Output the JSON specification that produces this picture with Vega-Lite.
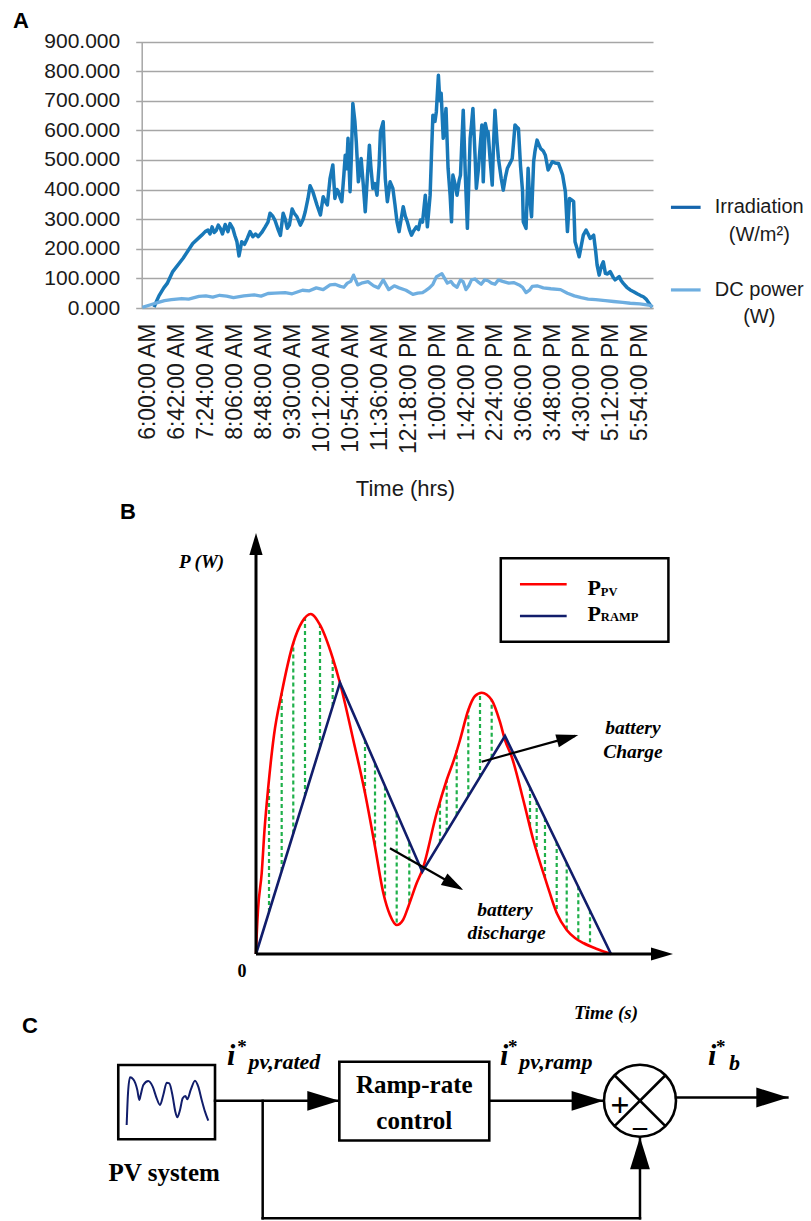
{
  "$schema": "https://vega.github.io/schema/vega-lite/v6.json",
  "width": 811,
  "height": 1221,
  "padding": 0,
  "autosize": {"type": "none"},
  "background": "#ffffff",
  "config": {"view": {"stroke": null}},
  "datasets": {
    "irr": [
      {"t":370,"v":3},{"t":373,"v":20},{"t":377,"v":41},{"t":384,"v":68},{"t":389,"v":83},{"t":397,"v":123},{"t":412,"v":168},{"t":426,"v":218},{"t":439,"v":246},{"t":444,"v":258},{"t":448,"v":263},{"t":451,"v":250},{"t":454,"v":274},{"t":457,"v":255},{"t":460,"v":262},{"t":463,"v":280},{"t":466,"v":269},{"t":469,"v":250},{"t":473,"v":282},{"t":477,"v":258},{"t":480,"v":285},{"t":484,"v":269},{"t":487,"v":245},{"t":490,"v":224},{"t":493,"v":176},{"t":497,"v":224},{"t":501,"v":215},{"t":505,"v":235},{"t":509,"v":258},{"t":513,"v":241},{"t":517,"v":250},{"t":521,"v":241},{"t":526,"v":255},{"t":531,"v":274},{"t":535,"v":290},{"t":538,"v":320},{"t":542,"v":310},{"t":545,"v":297},{"t":550,"v":263},{"t":553,"v":245},{"t":557,"v":320},{"t":560,"v":300},{"t":563,"v":269},{"t":566,"v":280},{"t":570,"v":334},{"t":573,"v":320},{"t":577,"v":308},{"t":582,"v":280},{"t":586,"v":300},{"t":589,"v":325},{"t":593,"v":370},{"t":596,"v":413},{"t":600,"v":393},{"t":606,"v":348},{"t":611,"v":314},{"t":615,"v":376},{"t":618,"v":360},{"t":621,"v":348},{"t":625,"v":438},{"t":629,"v":483},{"t":632,"v":370},{"t":635,"v":400},{"t":637,"v":393},{"t":640,"v":370},{"t":642,"v":359},{"t":645,"v":450},{"t":647,"v":516},{"t":649,"v":470},{"t":651,"v":573},{"t":654,"v":393},{"t":656,"v":520},{"t":658,"v":691},{"t":661,"v":629},{"t":663,"v":560},{"t":666,"v":426},{"t":668,"v":460},{"t":670,"v":505},{"t":673,"v":420},{"t":676,"v":325},{"t":679,"v":440},{"t":682,"v":550},{"t":684,"v":480},{"t":687,"v":404},{"t":690,"v":420},{"t":693,"v":381},{"t":696,"v":480},{"t":698,"v":595},{"t":702,"v":629},{"t":705,"v":438},{"t":708,"v":359},{"t":712,"v":426},{"t":716,"v":404},{"t":719,"v":350},{"t":722,"v":291},{"t":725,"v":258},{"t":728,"v":300},{"t":731,"v":342},{"t":734,"v":310},{"t":737,"v":291},{"t":740,"v":265},{"t":743,"v":246},{"t":746,"v":260},{"t":750,"v":274},{"t":753,"v":265},{"t":756,"v":297},{"t":759,"v":290},{"t":763,"v":381},{"t":766,"v":274},{"t":770,"v":381},{"t":772,"v":520},{"t":774,"v":651},{"t":777,"v":630},{"t":779,"v":663},{"t":782,"v":786},{"t":784,"v":700},{"t":786,"v":725},{"t":789,"v":573},{"t":791,"v":610},{"t":793,"v":674},{"t":796,"v":472},{"t":799,"v":380},{"t":801,"v":291},{"t":803,"v":449},{"t":806,"v":420},{"t":809,"v":381},{"t":812,"v":430},{"t":814,"v":449},{"t":816,"v":560},{"t":818,"v":668},{"t":821,"v":450},{"t":824,"v":269},{"t":826,"v":420},{"t":828,"v":573},{"t":830,"v":620},{"t":832,"v":674},{"t":835,"v":520},{"t":837,"v":404},{"t":840,"v":470},{"t":843,"v":560},{"t":845,"v":618},{"t":847,"v":426},{"t":850,"v":623},{"t":852,"v":600},{"t":854,"v":595},{"t":857,"v":500},{"t":860,"v":415},{"t":862,"v":560},{"t":864,"v":668},{"t":867,"v":560},{"t":869,"v":505},{"t":873,"v":438},{"t":876,"v":398},{"t":879,"v":440},{"t":882,"v":472},{"t":886,"v":490},{"t":889,"v":505},{"t":891,"v":560},{"t":893,"v":618},{"t":896,"v":610},{"t":898,"v":606},{"t":901,"v":480},{"t":904,"v":393},{"t":905,"v":291},{"t":907,"v":280},{"t":909,"v":269},{"t":911,"v":400},{"t":912,"v":472},{"t":914,"v":380},{"t":917,"v":308},{"t":920,"v":494},{"t":922,"v":530},{"t":925,"v":567},{"t":928,"v":550},{"t":930,"v":539},{"t":934,"v":530},{"t":937,"v":516},{"t":941,"v":466},{"t":944,"v":480},{"t":947,"v":494},{"t":951,"v":490},{"t":956,"v":488},{"t":959,"v":470},{"t":962,"v":449},{"t":966,"v":393},{"t":969,"v":258},{"t":972,"v":370},{"t":975,"v":365},{"t":978,"v":359},{"t":980,"v":224},{"t":983,"v":200},{"t":986,"v":173},{"t":989,"v":210},{"t":992,"v":246},{"t":996,"v":263},{"t":999,"v":250},{"t":1002,"v":235},{"t":1007,"v":246},{"t":1010,"v":190},{"t":1012,"v":145},{"t":1015,"v":111},{"t":1018,"v":140},{"t":1021,"v":156},{"t":1024,"v":117},{"t":1027,"v":115},{"t":1031,"v":123},{"t":1035,"v":105},{"t":1038,"v":95},{"t":1041,"v":100},{"t":1044,"v":106},{"t":1047,"v":92},{"t":1050,"v":83},{"t":1055,"v":70},{"t":1060,"v":61},{"t":1065,"v":55},{"t":1070,"v":48},{"t":1075,"v":42},{"t":1079,"v":38},{"t":1083,"v":30},{"t":1086,"v":20},{"t":1089,"v":10},{"t":1092,"v":3}
    ],
    "dc": [
      {"t":353,"v":2},{"t":365,"v":11},{"t":375,"v":18},{"t":385,"v":25},{"t":395,"v":28},{"t":410,"v":32},{"t":420,"v":30},{"t":435,"v":39},{"t":445,"v":41},{"t":455,"v":37},{"t":465,"v":43},{"t":475,"v":40},{"t":485,"v":35},{"t":500,"v":41},{"t":515,"v":44},{"t":525,"v":40},{"t":535,"v":49},{"t":545,"v":50},{"t":560,"v":52},{"t":570,"v":48},{"t":585,"v":60},{"t":595,"v":58},{"t":605,"v":68},{"t":615,"v":62},{"t":625,"v":78},{"t":632,"v":80},{"t":640,"v":73},{"t":645,"v":70},{"t":650,"v":84},{"t":655,"v":90},{"t":659,"v":111},{"t":665,"v":78},{"t":672,"v":85},{"t":680,"v":89},{"t":688,"v":75},{"t":695,"v":68},{"t":702,"v":95},{"t":710,"v":62},{"t":718,"v":75},{"t":725,"v":68},{"t":735,"v":60},{"t":745,"v":46},{"t":752,"v":50},{"t":759,"v":52},{"t":763,"v":58},{"t":769,"v":68},{"t":774,"v":80},{"t":779,"v":105},{"t":787,"v":116},{"t":795,"v":84},{"t":800,"v":90},{"t":804,"v":78},{"t":809,"v":70},{"t":814,"v":95},{"t":818,"v":88},{"t":822,"v":62},{"t":826,"v":75},{"t":830,"v":95},{"t":835,"v":98},{"t":839,"v":89},{"t":844,"v":80},{"t":849,"v":95},{"t":854,"v":92},{"t":859,"v":84},{"t":864,"v":80},{"t":869,"v":95},{"t":875,"v":90},{"t":884,"v":84},{"t":891,"v":86},{"t":899,"v":78},{"t":904,"v":70},{"t":909,"v":52},{"t":914,"v":60},{"t":918,"v":73},{"t":925,"v":75},{"t":934,"v":68},{"t":945,"v":65},{"t":959,"v":62},{"t":969,"v":50},{"t":979,"v":41},{"t":989,"v":35},{"t":999,"v":30},{"t":1010,"v":28},{"t":1024,"v":25},{"t":1036,"v":22},{"t":1049,"v":19},{"t":1060,"v":16},{"t":1074,"v":14},{"t":1089,"v":9},{"t":1092,"v":3}
    ],
    "pvCurve": [
      {"t":0,"P":0},{"t":0.12,"P":3.33},{"t":0.48,"P":10.45},{"t":1.37,"P":19.24},{"t":2.04,"P":29.45},{"t":2.95,"P":39.74},{"t":4.32,"P":52.02},{"t":6.16,"P":62.0},{"t":8.94,"P":73.87},{"t":11.03,"P":78.86},{"t":13.12,"P":80.76},{"t":15.35,"P":78.15},{"t":18.39,"P":70.31},{"t":20.14,"P":64.37},{"t":23.33,"P":50.83},{"t":26.14,"P":38.24},{"t":28.54,"P":25.49},{"t":30.53,"P":14.49},{"t":32.13,"P":9.26},{"t":33.74,"P":6.89},{"t":35.25,"P":8.08},{"t":36.52,"P":11.24},{"t":38.54,"P":16.86},{"t":39.88,"P":19.95},{"t":43.33,"P":33.49},{"t":45.73,"P":41.33},{"t":47.72,"P":46.86},{"t":48.92,"P":50.83},{"t":50.91,"P":57.96},{"t":52.52,"P":61.28},{"t":54.12,"P":62.07},{"t":56.52,"P":60.33},{"t":58.51,"P":55.11},{"t":59.71,"P":50.83},{"t":61.32,"P":46.86},{"t":64.1,"P":36.58},{"t":66.5,"P":27.08},{"t":69.71,"P":16.79},{"t":72.11,"P":9.74},{"t":74.51,"P":5.7},{"t":76.5,"P":3.8},{"t":78.49,"P":2.61},{"t":81.77,"P":1.19},{"t":85.13,"P":0}
    ],
    "rampCurve": [
      {"t":0,"P":0},{"t":20.14,"P":64.44},{"t":39.88,"P":19.55},{"t":59.71,"P":51.78},{"t":85.13,"P":0}
    ],
    "battery": [
      {"t":3.12,"P":9.98,"P2":39.74},{"t":6.16,"P":19.71,"P2":62.0},{"t":8.94,"P":28.62,"P2":73.87},{"t":11.75,"P":37.53,"P2":80.12},{"t":15.35,"P":49.17,"P2":78.15},{"t":18.39,"P":58.91,"P2":70.31},
      {"t":26.14,"P":50.83,"P2":38.24},{"t":28.54,"P":45.25,"P2":25.49},{"t":30.94,"P":39.79,"P2":13.3},{"t":33.74,"P":33.35,"P2":6.89},{"t":36.76,"P":26.46,"P2":11.88},
      {"t":44.12,"P":26.44,"P2":36.1},{"t":45.73,"P":29.05,"P2":41.33},{"t":48.13,"P":32.95,"P2":48.46},{"t":50.91,"P":37.46,"P2":57.96},{"t":53.72,"P":42.04,"P2":62.0},{"t":56.52,"P":46.6,"P2":60.33},
      {"t":65.71,"P":39.67,"P2":30.21},{"t":67.31,"P":36.37,"P2":24.47},{"t":69.3,"P":32.3,"P2":18.05},{"t":72.11,"P":26.6,"P2":9.74},{"t":74.51,"P":21.73,"P2":5.7},{"t":77.29,"P":16.08,"P2":3.33},{"t":80.1,"P":10.38,"P2":1.9}
    ],
    "wave": [
      {"u":3.81,"w":14.29},{"u":4.0,"w":18.81},{"u":4.29,"w":21.1},{"u":4.76,"w":20.81},{"u":5.33,"w":19.29},{"u":5.61,"w":17.86},{"u":5.81,"w":18.57},{"u":6.19,"w":20.0},{"u":6.9,"w":20.57},{"u":7.53,"w":19.76},{"u":8.1,"w":18.1},{"u":8.57,"w":17.14},{"u":9.04,"w":18.57},{"u":9.53,"w":20.33},{"u":9.9,"w":20.24},{"u":10.39,"w":18.33},{"u":10.76,"w":16.19},{"u":11.04,"w":15.38},{"u":11.43,"w":16.43},{"u":11.81,"w":18.1},{"u":12.19,"w":18.43},{"u":12.47,"w":17.96},{"u":12.96,"w":19.29},{"u":13.57,"w":20.62},{"u":14.04,"w":19.76},{"u":14.53,"w":17.86},{"u":15.0,"w":16.19},{"u":15.47,"w":14.9}
    ]
  },
  "resolve": {"scale": {"x": "independent", "y": "independent"}},
  "layer": [
    {
      "encoding": {
        "x": {
          "field": "t", "type": "quantitative",
          "scale": {"domain": [352, 1093], "range": [141.7, 653], "nice": false, "zero": false},
          "axis": {
            "values": [360,402,444,486,528,570,612,654,696,738,780,822,864,906,948,990,1032,1074],
            "labelExpr": "(floor(datum.value/60) % 12 == 0 ? 12 : floor(datum.value/60) % 12) + ':' + (datum.value % 60 < 10 ? '0' : '') + (datum.value % 60) + ':00 ' + (datum.value < 720 ? 'AM' : 'PM')",
            "labelAngle": 270, "labelFont": "Liberation Sans", "labelFontSize": 23, "labelColor": "#1a1a1a",
            "labelPadding": 15, "labelOverlap": false, "labelFlush": false, "labelBound": false,
            "ticks": false, "grid": false,
            "domain": true, "domainColor": "#a6a6a6", "domainWidth": 1.5,
            "offset": -913,
            "title": "Time (hrs)", "titleFont": "Liberation Sans", "titleFontSize": 22, "titleFontWeight": "normal", "titleColor": "#1a1a1a",
            "titleX": 405, "titleY": 180, "titleBaseline": "middle", "titleAlign": "center", "titleAngle": 0
          }
        },
        "y": {
          "field": "v", "type": "quantitative",
          "scale": {"domain": [0, 900], "range": [308, 41.5], "nice": false, "zero": false},
          "axis": {
            "values": [0,100,200,300,400,500,600,700,800,900], "format": ".3f",
            "labelFont": "Liberation Sans", "labelFontSize": 21, "labelColor": "#1a1a1a", "labelPadding": 16,
            "ticks": true, "tickSize": 6, "tickColor": "#a6a6a6", "tickWidth": 1.5,
            "grid": true, "gridColor": "#a6a6a6", "gridWidth": 1.5,
            "domain": true, "domainColor": "#a6a6a6", "domainWidth": 1.5,
            "offset": -141.7, "title": null
          }
        }
      },
      "layer": [
        {"data": {"name": "irr"}, "mark": {"type": "line", "color": "#1878b8", "strokeWidth": 3.5, "strokeJoin": "round"}},
        {"data": {"name": "dc"}, "mark": {"type": "line", "color": "#6eaee0", "strokeWidth": 3.3, "strokeJoin": "round"}},
        {"data": {"values": [{"t": 1119, "t2": 1162, "v": 340}]}, "mark": {"type": "rule", "color": "#1565ad", "strokeWidth": 3.2}, "encoding": {"x2": {"field": "t2"}}},
        {"data": {"values": [{"t": 1119, "t2": 1162, "v": 61}]}, "mark": {"type": "rule", "color": "#6eaee0", "strokeWidth": 3.2}, "encoding": {"x2": {"field": "t2"}}},
        {"data": {"values": [{"t": 1247, "v": 340, "label": "Irradiation"}, {"t": 1247, "v": 246, "label": "(W/m²)"}, {"t": 1247, "v": 61, "label": "DC power"}, {"t": 1247, "v": -31, "label": "(W)"}]},
         "mark": {"type": "text", "font": "Liberation Sans", "fontSize": 20, "align": "center", "baseline": "middle", "color": "#1a1a1a"},
         "encoding": {"text": {"field": "label"}}},
        {"data": {"values": [{"t": 177, "v": 968, "label": "A"}]},
         "mark": {"type": "text", "font": "Liberation Sans", "fontSize": 22, "fontWeight": "bold", "align": "center", "baseline": "middle", "color": "#000000"},
         "encoding": {"text": {"field": "label"}}}
      ]
    },
    {
      "encoding": {
        "x": {"field": "t", "type": "quantitative", "scale": {"domain": [0, 100], "range": [256, 673], "nice": false, "zero": false}, "axis": null},
        "y": {"field": "P", "type": "quantitative", "scale": {"domain": [0, 100], "range": [954, 533], "nice": false, "zero": false}, "axis": null}
      },
      "layer": [
        {"data": {"name": "battery"}, "mark": {"type": "rule", "color": "#1fb04a", "strokeWidth": 2.2, "strokeDash": [4, 3]}, "encoding": {"y2": {"field": "P2"}}},
        {"data": {"name": "pvCurve"}, "mark": {"type": "line", "color": "#ff0000", "strokeWidth": 2.6, "interpolate": "monotone"}},
        {"data": {"name": "rampCurve"}, "mark": {"type": "line", "color": "#111d6b", "strokeWidth": 2.6}},
        {"data": {"values": [{"t": 0, "P": 0, "t2": 0, "P2": 96}, {"t": 0, "P": 0, "t2": 96, "P2": 0}]},
         "mark": {"type": "rule", "color": "#000000", "strokeWidth": 3}, "encoding": {"x2": {"field": "t2"}, "y2": {"field": "P2"}}},
        {"data": {"values": [{"t": 0, "P": 100}]}, "mark": {"type": "point", "shape": "M-2,-0.6L0,0L-2,0.6Z", "size": 484, "filled": true, "color": "#000000", "opacity": 1, "angle": 270}},
        {"data": {"values": [{"t": 100, "P": 0}]}, "mark": {"type": "point", "shape": "M-2,-0.6L0,0L-2,0.6Z", "size": 484, "filled": true, "color": "#000000", "opacity": 1, "angle": 0}},
        {"data": {"values": [{"t": 54.12, "P": 45.68, "t2": 76.5, "P2": 51.8}, {"t": 32.13, "P": 25.11, "t2": 49.0, "P2": 15.6}]},
         "mark": {"type": "rule", "color": "#000000", "strokeWidth": 2.2}, "encoding": {"x2": {"field": "t2"}, "y2": {"field": "P2"}}},
        {"data": {"values": [{"t": 77.29, "P": 52.02}]}, "mark": {"type": "point", "shape": "M-2,-0.6L0,0L-2,0.6Z", "size": 484, "filled": true, "color": "#000000", "opacity": 1, "angle": 344.5}},
        {"data": {"values": [{"t": 49.71, "P": 15.2}]}, "mark": {"type": "point", "shape": "M-2,-0.6L0,0L-2,0.6Z", "size": 484, "filled": true, "color": "#000000", "opacity": 1, "angle": 29.6}},
        {"data": {"values": [{"t": 58.7, "t2": 98.9, "P": 74.17, "P2": 93.98}]},
         "mark": {"type": "rect", "fill": "#ffffff", "stroke": "#000000", "strokeWidth": 2.5}, "encoding": {"x2": {"field": "t2"}, "y2": {"field": "P2"}}},
        {"data": {"values": [{"t": 63.3, "t2": 74.5, "P": 87.8}]}, "mark": {"type": "rule", "color": "#ff0000", "strokeWidth": 2.5}, "encoding": {"x2": {"field": "t2"}}},
        {"data": {"values": [{"t": 63.3, "t2": 74.5, "P": 80.3}]}, "mark": {"type": "rule", "color": "#111d6b", "strokeWidth": 2.5}, "encoding": {"x2": {"field": "t2"}}},
        {"data": {"values": [{"t": 79.5, "P": 85.27, "label": "P"}, {"t": 79.5, "P": 79.2, "label": "P"}]},
         "mark": {"type": "text", "font": "Liberation Serif", "fontSize": 22, "fontWeight": "bold", "align": "left", "baseline": "alphabetic", "color": "#000000"},
         "encoding": {"text": {"field": "label"}}},
        {"data": {"values": [{"t": 82.7, "P": 85.04, "label": "PV"}, {"t": 82.7, "P": 79.0, "label": "RAMP"}]},
         "mark": {"type": "text", "font": "Liberation Serif", "fontSize": 12.5, "fontWeight": "bold", "align": "left", "baseline": "alphabetic", "color": "#000000"},
         "encoding": {"text": {"field": "label"}}},
        {"data": {"values": [{"t": -13.07, "P": 93.1, "label": "P (W)"}, {"t": 83.93, "P": -14.13, "label": "Time (s)"}]},
         "mark": {"type": "text", "font": "Liberation Serif", "fontSize": 19, "fontWeight": "bold", "fontStyle": "italic", "align": "center", "baseline": "middle", "color": "#000000"},
         "encoding": {"text": {"field": "label"}}},
        {"data": {"values": [{"t": -3.36, "P": -4.28, "label": "0"}]},
         "mark": {"type": "text", "font": "Liberation Serif", "fontSize": 18, "fontWeight": "bold", "align": "center", "baseline": "middle", "color": "#000000"},
         "encoding": {"text": {"field": "label"}}},
        {"data": {"values": [{"t": 90.4, "P": 53.6, "label": "battery"}, {"t": 90.4, "P": 48.05, "label": "Charge"}, {"t": 59.7, "P": 10.45, "label": "battery"}, {"t": 60.1, "P": 4.9, "label": "discharge"}]},
         "mark": {"type": "text", "font": "Liberation Serif", "fontSize": 19.5, "fontWeight": "bold", "fontStyle": "italic", "align": "center", "baseline": "middle", "color": "#000000"},
         "encoding": {"text": {"field": "label"}}},
        {"data": {"values": [{"t": -30.7, "P": 105.0, "label": "B"}]},
         "mark": {"type": "text", "font": "Liberation Sans", "fontSize": 22, "fontWeight": "bold", "align": "center", "baseline": "middle", "color": "#000000"},
         "encoding": {"text": {"field": "label"}}}
      ]
    },
    {
      "encoding": {
        "x": {"field": "u", "type": "quantitative", "scale": {"domain": [0, 100], "range": [100, 800], "nice": false, "zero": false}, "axis": null},
        "y": {"field": "w", "type": "quantitative", "scale": {"domain": [0, 25], "range": [1225, 1050], "nice": false, "zero": false}, "axis": null}
      },
      "layer": [
        {"data": {"values": [{"u": 2.61, "u2": 16.43, "w": 12.24, "w2": 22.86}, {"u": 34.19, "u2": 55.61, "w": 12.07, "w2": 23.33}]},
         "mark": {"type": "rect", "fill": "#ffffff", "stroke": "#000000", "strokeWidth": 2.6}, "encoding": {"x2": {"field": "u2"}, "y2": {"field": "w2"}}},
        {"data": {"name": "wave"}, "mark": {"type": "line", "color": "#111d6b", "strokeWidth": 2, "interpolate": "monotone"}},
        {"data": {"values": [
          {"u": 16.43, "w": 17.74, "u2": 34.0, "w2": 17.74},
          {"u": 55.61, "w": 17.74, "u2": 71.8, "w2": 17.74},
          {"u": 82.29, "w": 18.21, "u2": 98.2, "w2": 18.21},
          {"u": 23.24, "w": 17.74, "u2": 23.24, "w2": 0.96},
          {"u": 23.24, "w": 0.96, "u2": 77.14, "w2": 0.96},
          {"u": 77.14, "w": 0.96, "u2": 77.14, "w2": 12.4}]},
         "mark": {"type": "rule", "color": "#000000", "strokeWidth": 2.5, "strokeCap": "square"}, "encoding": {"x2": {"field": "u2"}, "y2": {"field": "w2"}}},
        {"data": {"values": [{"u": 34.19, "w": 17.74}, {"u": 71.95, "w": 17.74}, {"u": 98.33, "w": 18.21}]},
         "mark": {"type": "point", "shape": "M-2,-0.62L0,0L-2,0.62Z", "size": 1024, "filled": true, "color": "#000000", "opacity": 1, "angle": 0}},
        {"data": {"values": [{"u": 77.14, "w": 12.55}]},
         "mark": {"type": "point", "shape": "M-2,-0.62L0,0L-2,0.62Z", "size": 1024, "filled": true, "color": "#000000", "opacity": 1, "angle": 270}},
        {"data": {"values": [{"u": 77.14, "w": 17.76}]},
         "mark": {"type": "point", "shape": "M-1,0A1,1,0,1,1,1,0A1,1,0,1,1,-1,0M-0.7071,-0.7071L0.7071,0.7071M-0.7071,0.7071L0.7071,-0.7071", "size": 5184, "filled": false, "stroke": "#000000", "strokeWidth": 2.6, "opacity": 1}},
        {"data": {"values": [{"u": 74.29, "w": 16.93, "label": "+"}]},
         "mark": {"type": "text", "font": "Liberation Serif", "fontSize": 34, "fontWeight": "bold", "align": "center", "baseline": "middle", "color": "#000000"},
         "encoding": {"text": {"field": "label"}}},
        {"data": {"values": [{"u": 77.14, "w": 14.04, "label": "–"}]},
         "mark": {"type": "text", "font": "Liberation Serif", "fontSize": 28, "fontWeight": "bold", "align": "center", "baseline": "middle", "color": "#000000"},
         "encoding": {"text": {"field": "label"}}},
        {"data": {"values": [{"u": 44.9, "w": 20.0, "label": "Ramp-rate"}, {"u": 44.9, "w": 14.86, "label": "control"}, {"u": 9.17, "w": 7.43, "label": "PV system"}]},
         "mark": {"type": "text", "font": "Liberation Serif", "fontSize": 25, "fontWeight": "bold", "align": "center", "baseline": "middle", "color": "#000000"},
         "encoding": {"text": {"field": "label"}}},
        {"data": {"values": [{"u": 18.14, "w": 22.86, "label": "i"}, {"u": 57.14, "w": 22.86, "label": "i"}, {"u": 86.86, "w": 22.86, "label": "i"}]},
         "mark": {"type": "text", "font": "Liberation Serif", "fontSize": 30, "fontWeight": "bold", "fontStyle": "italic", "align": "left", "baseline": "alphabetic", "color": "#000000"},
         "encoding": {"text": {"field": "label"}}},
        {"data": {"values": [{"u": 19.6, "w": 24.6, "label": "*"}, {"u": 58.3, "w": 24.6, "label": "*"}, {"u": 88.0, "w": 24.6, "label": "*"}]},
         "mark": {"type": "text", "font": "Liberation Serif", "fontSize": 19, "fontWeight": "bold", "align": "left", "baseline": "alphabetic", "color": "#000000"},
         "encoding": {"text": {"field": "label"}}},
        {"data": {"values": [{"u": 21.2, "w": 22.29, "label": "pv,rated"}, {"u": 59.9, "w": 22.29, "label": "pv,ramp"}, {"u": 89.86, "w": 22.14, "label": "b"}]},
         "mark": {"type": "text", "font": "Liberation Serif", "fontSize": 22, "fontWeight": "bold", "fontStyle": "italic", "align": "left", "baseline": "alphabetic", "color": "#000000"},
         "encoding": {"text": {"field": "label"}}},
        {"data": {"values": [{"u": -10, "w": 28.5, "label": "C"}]},
         "mark": {"type": "text", "font": "Liberation Sans", "fontSize": 22, "fontWeight": "bold", "align": "center", "baseline": "middle", "color": "#000000"},
         "encoding": {"text": {"field": "label"}}}
      ]
    }
  ]
}
